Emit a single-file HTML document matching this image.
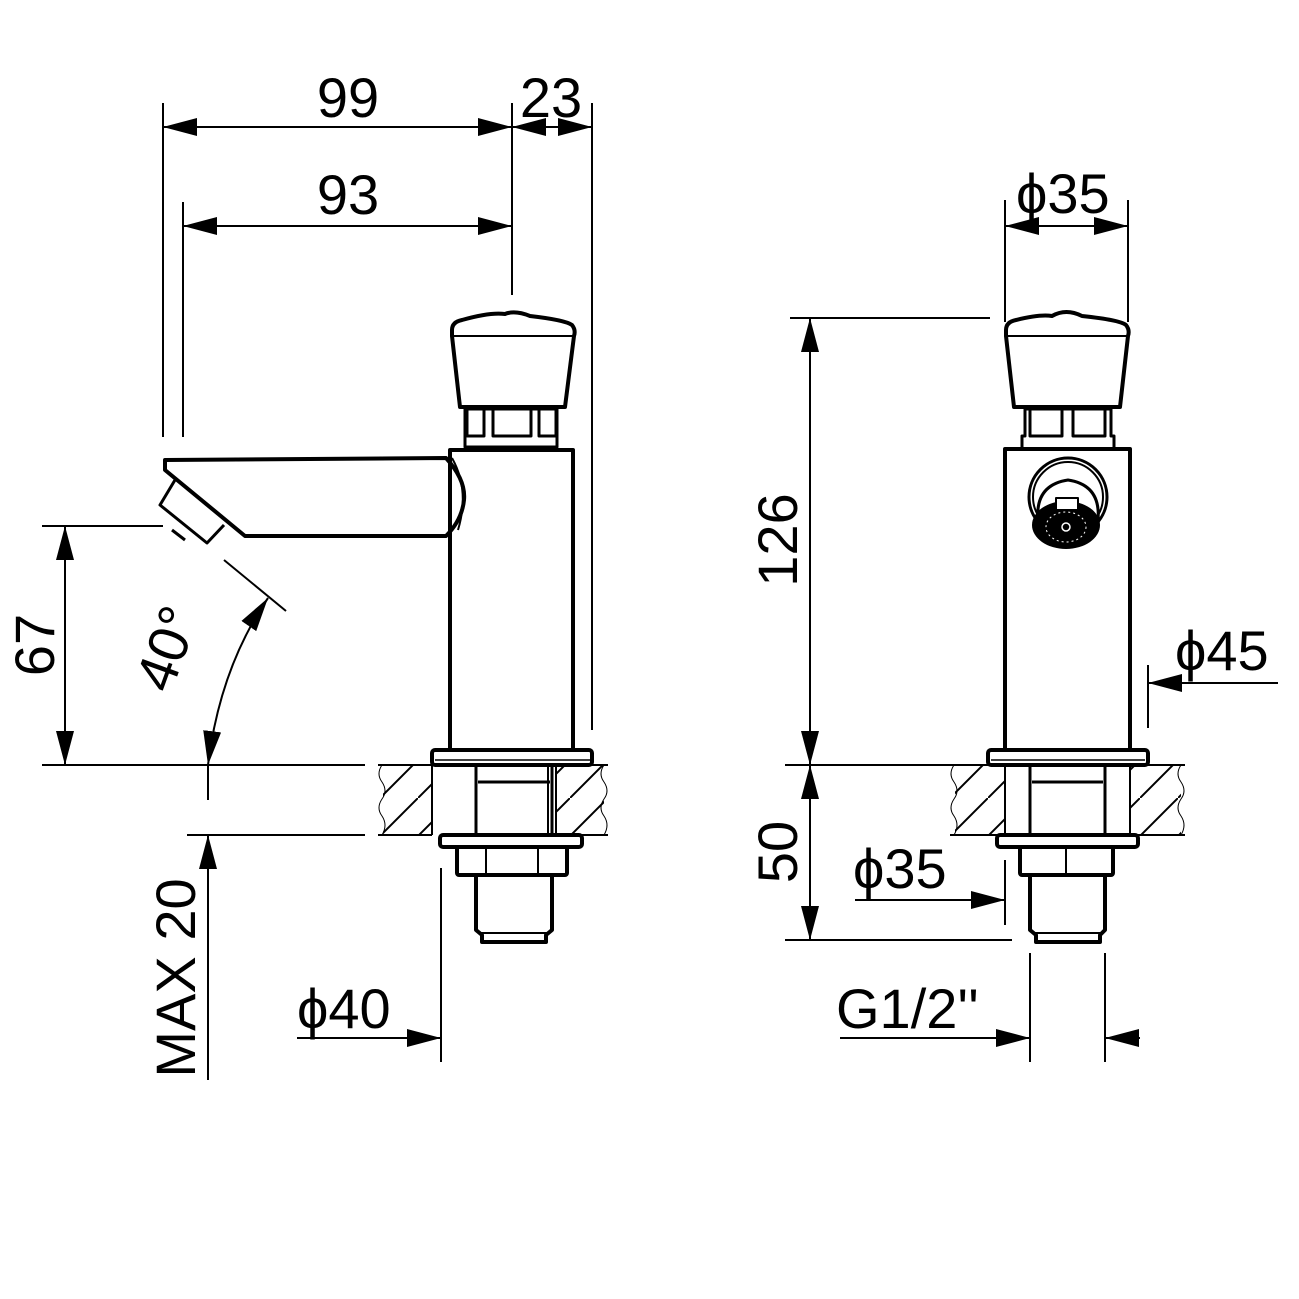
<!DOCTYPE html>
<html><head><meta charset="utf-8"><style>
html,body{margin:0;padding:0;background:#fff;width:1299px;height:1299px;overflow:hidden}
text{font-family:"Liberation Sans",sans-serif;fill:#000}
</style></head><body>
<svg width="1299" height="1299" viewBox="0 0 1299 1299" xmlns="http://www.w3.org/2000/svg">
<defs>
<marker id="a" viewBox="0 0 34 18" refX="34" refY="9" markerWidth="34" markerHeight="18" markerUnits="userSpaceOnUse" orient="auto"><path d="M0,0 L34,9 L0,18 Z" fill="#000"/></marker>
<marker id="b" viewBox="0 0 34 18" refX="34" refY="9" markerWidth="34" markerHeight="18" markerUnits="userSpaceOnUse" orient="auto-start-reverse"><path d="M0,0 L34,9 L0,18 Z" fill="#000"/></marker>
<pattern id="h" patternUnits="userSpaceOnUse" width="38" height="38"><path d="M-5,43 L43,-5" stroke="#000" stroke-width="2"/></pattern>
</defs>
<g stroke="#000" stroke-width="2" fill="none">
<line x1="163" y1="103" x2="163" y2="437"/>
<line x1="183" y1="202" x2="183" y2="437"/>
<line x1="512" y1="103" x2="512" y2="295"/>
<line x1="592" y1="103" x2="592" y2="730"/>
<line x1="163" y1="127" x2="512" y2="127" marker-start="url(#b)" marker-end="url(#b)"/>
<line x1="560" y1="127" x2="512" y2="127" marker-end="url(#a)"/>
<line x1="552" y1="127" x2="592" y2="127" marker-end="url(#a)"/>
<line x1="183" y1="226" x2="512" y2="226" marker-start="url(#b)" marker-end="url(#b)"/>
<line x1="42" y1="526" x2="163" y2="526"/>
<line x1="42" y1="765" x2="365" y2="765"/>
<line x1="65" y1="526" x2="65" y2="765" marker-start="url(#b)" marker-end="url(#b)"/>
<line x1="224" y1="560" x2="286" y2="611"/>
<path d="M208,765 Q220,668 268,598" marker-start="url(#b)" marker-end="url(#b)"/>
<line x1="187" y1="835" x2="365" y2="835"/>
<line x1="208" y1="765" x2="208" y2="800"/>
<line x1="208" y1="1080" x2="208" y2="835" marker-end="url(#a)"/>
<line x1="441" y1="868" x2="441" y2="1062"/>
<line x1="297" y1="1038" x2="441" y2="1038" marker-end="url(#a)"/>
</g>
<g stroke="#000" stroke-width="4" fill="none" stroke-linejoin="round">
<path d="M452,330 Q452,322 462,320 Q490,312 505,314 Q515,310 530,316 Q565,320 572,325 Q576,330 574,336 L565,407 L460,407 L452,336 Z"/>
<line x1="454" y1="336" x2="573" y2="336" stroke-width="2"/>
<rect x="465" y="409" width="92" height="38" stroke-width="3"/>
<rect x="467" y="409" width="17" height="27" stroke-width="3"/>
<rect x="493" y="409" width="38" height="27" stroke-width="3"/>
<rect x="539" y="409" width="17" height="27" stroke-width="3"/>
<path d="M450,750 L450,450 L573,450 L573,750"/>
<path d="M165,460 L446,458 Q466,480 464,500 Q462,520 446,536 L245,536 L165,470 Z"/>
<path d="M452,458 Q470,490 458,530" stroke-width="2"/>
<path d="M175,480 L160,505 L207,543 L224,525" stroke-width="3"/>
<line x1="172" y1="530" x2="185" y2="540" stroke-width="3"/>
<rect x="432" y="750" width="160" height="15" rx="3"/>
<line x1="435" y1="760" x2="590" y2="760" stroke-width="1.5"/>
<rect x="476" y="765" width="76" height="70" stroke-width="3"/>
<line x1="478" y1="782" x2="550" y2="782" stroke-width="3"/>
<line x1="548" y1="765" x2="548" y2="835" stroke-width="2"/>
<rect x="440" y="835" width="142" height="12" rx="3"/>
<rect x="457" y="847" width="110" height="28" rx="2"/>
<line x1="486" y1="847" x2="486" y2="875" stroke-width="2"/>
<line x1="538" y1="847" x2="538" y2="875" stroke-width="2"/>
<path d="M476,875 L476,930 L482,935 L482,942 L546,942 L546,935 L552,930 L552,875"/>
<line x1="480" y1="933" x2="548" y2="933" stroke-width="2"/>
</g>
<g stroke="#000" stroke-width="2">
<rect x="383" y="765" width="49" height="70" fill="url(#h)" stroke="none"/>
<rect x="556" y="765" width="48" height="70" fill="url(#h)" stroke="none"/>
<line x1="378" y1="765" x2="432" y2="765"/><line x1="378" y1="835" x2="432" y2="835"/>
<line x1="432" y1="765" x2="432" y2="835"/>
<line x1="556" y1="765" x2="608" y2="765"/><line x1="556" y1="835" x2="608" y2="835"/>
<line x1="556" y1="765" x2="556" y2="835"/>
<path d="M382,765 q-6,9 0,17 q6,9 0,17 q-6,9 0,17 q6,9 0,19" fill="none" stroke-width="1"/>
<path d="M604,765 q-6,9 0,17 q6,9 0,17 q-6,9 0,17 q6,9 0,19" fill="none" stroke-width="1"/>
</g>
<g stroke="#000" stroke-width="2" fill="none">
<line x1="1005" y1="200" x2="1005" y2="322"/>
<line x1="1128" y1="200" x2="1128" y2="322"/>
<line x1="1005" y1="226" x2="1128" y2="226" marker-start="url(#b)" marker-end="url(#b)"/>
<line x1="790" y1="318" x2="990" y2="318"/>
<line x1="810" y1="318" x2="810" y2="765" marker-start="url(#b)" marker-end="url(#b)"/>
<line x1="1148" y1="665" x2="1148" y2="728"/>
<line x1="1278" y1="683" x2="1148" y2="683" marker-end="url(#a)"/>
<line x1="785" y1="765" x2="1010" y2="765"/>
<line x1="785" y1="940" x2="1012" y2="940"/>
<line x1="810" y1="765" x2="810" y2="940" marker-start="url(#b)" marker-end="url(#b)"/>
<line x1="1005" y1="860" x2="1005" y2="925"/>
<line x1="855" y1="900" x2="1005" y2="900" marker-end="url(#a)"/>
<line x1="1030" y1="953" x2="1030" y2="1062"/>
<line x1="1105" y1="953" x2="1105" y2="1062"/>
<line x1="840" y1="1038" x2="1030" y2="1038" marker-end="url(#a)"/>
<line x1="1140" y1="1038" x2="1105" y2="1038" marker-end="url(#a)"/>
</g>
<g stroke="#000" stroke-width="4" fill="none" stroke-linejoin="round">
<path d="M1006,330 Q1006,322 1016,320 Q1040,314 1052,316 Q1066,308 1082,316 Q1120,320 1126,325 Q1130,330 1128,336 L1120,407 L1014,407 L1006,336 Z"/>
<line x1="1008" y1="336" x2="1127" y2="336" stroke-width="2"/>
<path d="M1022,447 L1022,436 L1025,436 L1025,409 L1111,409 L1111,436 L1114,436 L1114,447" stroke-width="3"/>
<rect x="1030" y="409" width="32" height="27" stroke-width="3"/>
<rect x="1073" y="409" width="32" height="27" stroke-width="3"/>
<path d="M1005,750 L1005,449 L1130,449 L1130,750"/>
<circle cx="1068" cy="497" r="39" stroke-width="3"/>
<circle cx="1068" cy="497" r="35" stroke-width="2"/>
<path d="M1038,520 Q1035,485 1068,480 Q1101,485 1098,520" stroke-width="3"/>
<ellipse cx="1066" cy="525" rx="34" ry="24" fill="#000" stroke="none"/>
<rect x="1056" y="498" width="22" height="12" fill="#fff" stroke-width="2"/>
<ellipse cx="1066" cy="527" rx="20" ry="15" stroke="#fff" stroke-width="1" stroke-dasharray="2 3"/>
<circle cx="1066" cy="527" r="4" stroke="#fff" stroke-width="1.5"/>
<rect x="988" y="750" width="160" height="15" rx="3"/>
<line x1="991" y1="760" x2="1145" y2="760" stroke-width="1.5"/>
<rect x="1030" y="765" width="75" height="70" stroke-width="3"/>
<line x1="1032" y1="782" x2="1103" y2="782" stroke-width="3"/>
<line x1="1005" y1="765" x2="1005" y2="835" stroke-width="2"/>
<line x1="1130" y1="765" x2="1130" y2="835" stroke-width="2"/>
<rect x="997" y="835" width="141" height="12" rx="3"/>
<rect x="1020" y="847" width="93" height="28" rx="2"/>
<line x1="1066" y1="847" x2="1066" y2="875" stroke-width="2"/>
<path d="M1030,875 L1030,930 L1036,935 L1036,942 L1100,942 L1100,935 L1105,930 L1105,875"/>
<line x1="1034" y1="933" x2="1101" y2="933" stroke-width="2"/>
</g>
<g stroke="#000" stroke-width="2">
<rect x="955" y="765" width="50" height="70" fill="url(#h)" stroke="none"/>
<rect x="1130" y="765" width="51" height="70" fill="url(#h)" stroke="none"/>
<line x1="950" y1="765" x2="1005" y2="765"/><line x1="950" y1="835" x2="1005" y2="835"/>
<line x1="1130" y1="765" x2="1185" y2="765"/><line x1="1130" y1="835" x2="1185" y2="835"/>
<path d="M954,765 q-6,9 0,17 q6,9 0,17 q-6,9 0,17 q6,9 0,19" fill="none" stroke-width="1"/>
<path d="M1181,765 q-6,9 0,17 q6,9 0,17 q-6,9 0,17 q6,9 0,19" fill="none" stroke-width="1"/>
</g>
<g font-size="56">
<text x="348" y="117" text-anchor="middle">99</text>
<text x="551" y="117" text-anchor="middle">23</text>
<text x="348" y="214" text-anchor="middle">93</text>
<text transform="translate(54,645) rotate(-90)" text-anchor="middle">67</text>
<text transform="translate(185,655) rotate(-70)" text-anchor="middle">40°</text>
<text transform="translate(195,978) rotate(-90)" text-anchor="middle">MAX 20</text>
<text x="297" y="1028">ϕ40</text>
<text x="1016" y="213">ϕ35</text>
<text transform="translate(797,540) rotate(-90)" text-anchor="middle">126</text>
<text x="1175" y="670">ϕ45</text>
<text transform="translate(797,852) rotate(-90)" text-anchor="middle">50</text>
<text x="853" y="888">ϕ35</text>
<text x="836" y="1028">G1/2''</text>
</g>
</svg>
</body></html>
